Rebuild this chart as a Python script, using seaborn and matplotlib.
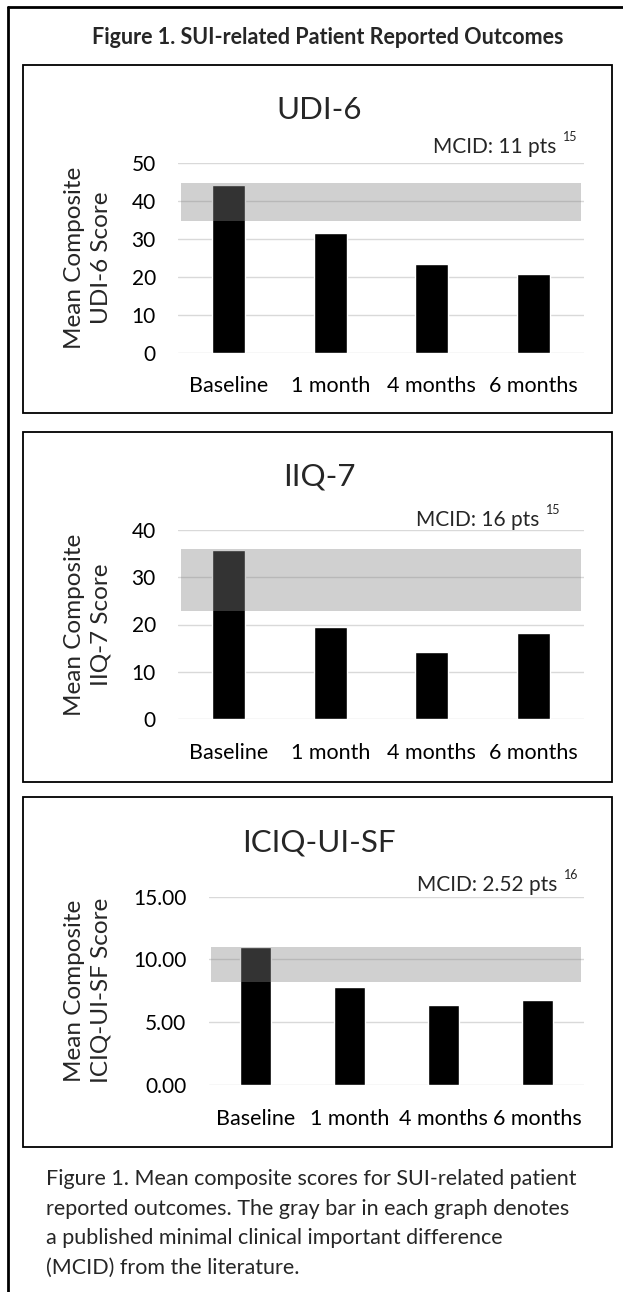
import matplotlib
matplotlib.use("Agg")
import matplotlib.pyplot as plt
import seaborn as sns
from matplotlib.patches import Rectangle
from matplotlib.lines import Line2D

# data
timepoints = ["Baseline", "1 month", "4 months", "6 months"]
udi6_scores = [44.4, 31.6, 23.5, 20.7]
iiq7_scores = [35.8, 19.4, 14.1, 18.3]
iciq_scores = [11.0, 7.8, 6.4, 6.8]

# MCID bands (low, high) as drawn
udi6_band = (34.8, 44.8)
iiq7_band = (22.8, 35.9)
iciq_band = (8.2, 11.0)

sns.set_theme(style="white")
plt.rcParams["font.family"] = ["Lato", "DejaVu Sans"]

W, H = 623, 1292
fig = plt.figure(figsize=(W / 100, H / 100), dpi=100)


def fx(x):
    return x / W


def fy(y):
    return 1 - y / H


# outer frame: top and left lines only
fig.add_artist(Line2D([fx(8), 1.0], [fy(7), fy(7)], color="black", lw=2))
fig.add_artist(Line2D([fx(8), fx(8)], [fy(7), 0.0], color="black", lw=2))

fig.text(fx(328), fy(38), "Figure 1. SUI-related Patient Reported Outcomes",
         ha="center", va="center", fontsize=15.5, fontweight="bold")

panels = [
    # title, values, band, ylim, ticks, fmt, ylabel, mcid, ref, box y, axes px
    ("UDI-6", udi6_scores, udi6_band, 50, [0, 10, 20, 30, 40, 50], "{:.0f}",
     "Mean Composite\nUDI-6 Score", "MCID: 11 pts", "15", (65, 413),
     (178, 584, 163.3, 352.8), 556, 147),
    ("IIQ-7", iiq7_scores, iiq7_band, 40, [0, 10, 20, 30, 40], "{:.0f}",
     "Mean Composite\nIIQ-7 Score", "MCID: 16 pts", "15", (432, 782),
     (178, 584, 530, 719), 539, 520),
    ("ICIQ-UI-SF", iciq_scores, iciq_band, 15, [0, 5, 10, 15], "{:.2f}",
     "Mean Composite\nICIQ-UI-SF Score", "MCID: 2.52 pts", "16", (797, 1147),
     (208.6, 584, 896.7, 1085), 557, 885),
]

for (title, vals, band, ytop, ticks, fmt, ylab, mcid, ref, box, axpx,
     mcid_x, mcid_y) in panels:
    by0, by1 = box
    fig.add_artist(Rectangle((fx(23), fy(by1)), fx(612) - fx(23), fy(by0) - fy(by1),
                             fill=False, edgecolor="black", lw=1.3))
    x0, x1, ytp, ybt = axpx
    ax = fig.add_axes([fx(x0), fy(ybt), fx(x1) - fx(x0), fy(ytp) - fy(ybt)])
    sns.barplot(x=timepoints, y=vals, color="black", saturation=1, width=0.33, ax=ax)
    ax.set_ylim(0, ytop)
    ax.set_xlim(-0.5, 3.5)
    ax.set_yticks(ticks)
    ax.set_yticklabels([fmt.format(t) for t in ticks])
    ax.grid(axis="y", color="#d9d9d9", lw=1.0)
    ax.grid(axis="x", visible=False)
    ax.set_axisbelow(True)
    for s in ax.spines.values():
        s.set_visible(False)
    ax.tick_params(axis="y", labelsize=15, pad=16, length=0, colors="black")
    ax.tick_params(axis="x", labelsize=15.5, pad=17, length=0, colors="black")
    ax.set_xlabel("")
    ax.set_ylabel("")
    ax.axhspan(band[0], band[1], xmin=0.007, xmax=0.993,
               color=(133 / 255, 133 / 255, 133 / 255), alpha=0.384, lw=0, zorder=3)

    fig.text(fx(319), fy(by0 + 45), title, ha="center", va="center", fontsize=22.5)
    fig.text(fx(88), fy((ytp + ybt) / 2), ylab, ha="center", va="center",
             rotation=90, fontsize=17.5, multialignment="center", linespacing=1.3)
    fig.text(fx(mcid_x), fy(mcid_y), mcid, ha="right", va="center", fontsize=15)
    fig.text(fx(mcid_x + 7), fy(mcid_y - 10), ref, ha="left", va="center", fontsize=9)

fig.text(fx(46), fy(1169),
         "Figure 1. Mean composite scores for SUI-related patient\n"
         "reported outcomes. The gray bar in each graph denotes\n"
         "a published minimal clinical important difference\n"
         "(MCID) from the literature.",
         ha="left", va="top", fontsize=15.5, linespacing=1.6)

fig.savefig("out.png", dpi=100)
